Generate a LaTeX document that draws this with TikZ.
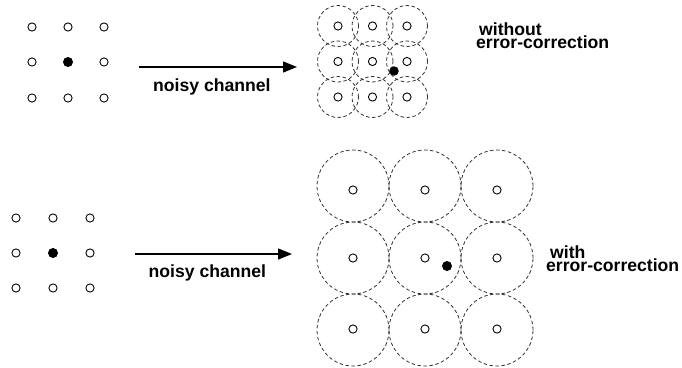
\documentclass[tikz,border=0pt]{standalone}
\usepackage{fontspec}
\newfontfamily\labfont{Liberation Sans}
\usetikzlibrary{arrows.meta}
\begin{document}
\begin{tikzpicture}[x=1pt,y=-1pt,
  opendot/.style={circle,draw=black,line width=0.9pt,minimum size=8.2pt,inner sep=0pt},
  filldot/.style={circle,fill=black,minimum size=10pt,inner sep=0pt},
  region/.style={circle,draw=black!80,dashed,dash pattern=on 3.5pt off 2.5pt,line width=0.8pt,inner sep=0pt},
  chan/.style={line width=1.3pt,-{Triangle[length=14pt,width=11pt]}},
  lbl/.style={font=\labfont\bfseries\fontsize{17.6}{18}\selectfont,inner sep=0pt,anchor=base west}]
\useasboundingbox (0,0) rectangle (682,367);
% top-left constellation
\foreach \c/\x in {1/32,2/68,3/104}{
  \foreach \r/\y in {1/27,2/62,3/98}{
    \ifnum\c\r=22\else
      \node[opendot] (ta\c\r) at (\x,\y) {};
    \fi
  }}
\node[filldot] (ta22) at (68,62) {};
% top arrow
\coordinate (ts) at (139,67);
\coordinate (te) at (297,67);
\draw[chan] (ts) -- (te);
\node[lbl] (tn) at (153,91.7) {noisy channel};
% top-right: regions
\foreach \c/\x in {1/338,2/372.5,3/407}{
  \foreach \r/\y in {1/26,2/61.5,3/97}{
    \node[region,minimum size=41pt] (tr\c\r) at (\x,\y) {};
    \node[opendot] (tp\c\r) at (\x,\y) {};
  }}
\node[filldot,minimum size=9.5pt] (trx) at (394,71) {};
\node[lbl] (tw1) at (479,35.3) {without};
\node[lbl] (tw2) at (476,48.5) {error-correction};
% bottom-left constellation
\foreach \c/\x in {1/16,2/53,3/90}{
  \foreach \r/\y in {1/218,2/253,3/288}{
    \ifnum\c\r=22\else
      \node[opendot] (ba\c\r) at (\x,\y) {};
    \fi
  }}
\node[filldot] (ba22) at (53,253) {};
% bottom arrow
\coordinate (bs) at (135,254);
\coordinate (be) at (292,254);
\draw[chan] (bs) -- (be);
\node[lbl] (bn) at (148.5,277) {noisy channel};
% bottom-right: regions
\foreach \c/\x in {1/353,2/425,3/497}{
  \foreach \r/\y/\py in {1/186/190,2/258/258,3/330/329}{
    \node[region,minimum size=72pt] (br\c\r) at (\x,\y) {};
    \node[opendot] (bp\c\r) at (\x,\py) {};
  }}
\node[filldot] (brx) at (447,266) {};
\node[lbl] (bw1) at (550,258.3) {with};
\node[lbl] (bw2) at (546,271.5) {error-correction};
\end{tikzpicture}
\end{document}
